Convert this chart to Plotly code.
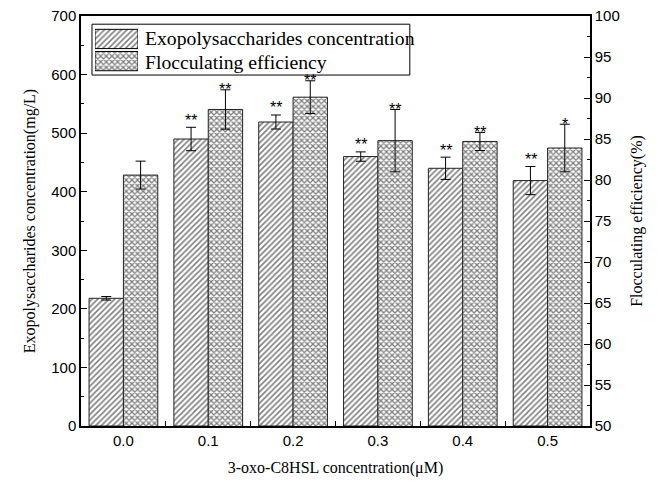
import plotly.graph_objects as go

categories = ["0.0", "0.1", "0.2", "0.3", "0.4", "0.5"]
eps_values = [218, 490, 519, 460, 440, 419]
eps_errors = [3, 20, 12, 8, 19, 24]
eps_marks = ["", "**", "**", "**", "**", "**"]
floc_values = [80.6, 88.6, 90.1, 84.8, 84.7, 83.9]
floc_errors = [1.7, 2.4, 2.0, 3.8, 1.1, 2.9]
floc_marks = ["", "**", "**", "**", "**", "*"]
series_names = ["Exopolysaccharides concentration", "Flocculating efficiency"]

xpos = list(range(len(categories)))
serif = "Liberation Serif, Times New Roman, serif"
sans = "Liberation Sans, Arial, sans-serif"

eps_pattern = dict(shape="/", fgcolor="black", bgcolor="white", size=4, solidity=0.4)
floc_pattern = dict(shape="x", fgcolor="black", bgcolor="white", size=4, solidity=0.55)

fig = go.Figure()
fig.add_trace(go.Bar(
    x=xpos, y=eps_values, name=series_names[0], showlegend=False,
    offsetgroup="a", xaxis="x", yaxis="y",
    marker=dict(color="white", line=dict(color="#222", width=1), pattern=eps_pattern),
    error_y=dict(type="data", array=eps_errors, color="black", thickness=1, width=5),
))
fig.add_trace(go.Bar(
    x=xpos, y=floc_values, name=series_names[1], showlegend=False,
    offsetgroup="b", xaxis="x", yaxis="y2", base=0,
    marker=dict(color="white", line=dict(color="#222", width=1), pattern=floc_pattern),
    error_y=dict(type="data", array=floc_errors, color="black", thickness=1, width=5),
))

# legend swatches (drawn on a small auxiliary axis inside the legend box)
for row, (nm, pat) in enumerate(zip(series_names, [eps_pattern, floc_pattern])):
    fig.add_trace(go.Bar(
        y=[1 - row], x=[1], orientation="h", name=nm, showlegend=False, hoverinfo="skip",
        xaxis="x3", yaxis="y3", width=0.87, offset=-0.435,
        marker=dict(color="white", line=dict(color="black", width=1), pattern=pat),
    ))

annotations = []
for i in xpos:
    if eps_marks[i]:
        annotations.append(dict(x=i, y=eps_values[i] + eps_errors[i], xref="x", yref="y",
                                text=eps_marks[i], showarrow=False, xshift=-17, yshift=7,
                                font=dict(family=sans, size=16, color="black")))
    if floc_marks[i]:
        annotations.append(dict(x=i, y=floc_values[i] + floc_errors[i], xref="x", yref="y2",
                                text=floc_marks[i], showarrow=False, xshift=17, yshift=0,
                                font=dict(family=sans, size=16, color="black")))
for row, nm in enumerate(series_names):
    annotations.append(dict(x=0.1218, y=0.947 - row * 0.058, xref="paper", yref="paper",
                            xanchor="left", yanchor="middle", text=nm, showarrow=False,
                            font=dict(family=serif, size=19.7, color="black")))

fig.update_layout(
    width=657, height=492,
    margin=dict(l=81, r=67, t=16, b=66, autoexpand=False),
    paper_bgcolor="white", plot_bgcolor="white",
    barmode="group", bargap=0.19, bargroupgap=0,
    showlegend=False,
    annotations=annotations,
    shapes=[dict(type="rect", xref="paper", yref="paper", x0=0.0216, x1=0.646,
                 y0=0.856, y1=0.980, line=dict(color="black", width=1),
                 fillcolor="white", layer="below")],
    xaxis=dict(range=[-0.5, 5.5], tickmode="array", tickvals=xpos, ticktext=categories,
               ticks="", showline=True, linecolor="black", linewidth=1.5, mirror=True,
               showgrid=False, zeroline=False, automargin=False,
               tickfont=dict(family=sans, size=15, color="black"),
               minor=dict(tickvals=[0.5, 1.5, 2.5, 3.5, 4.5], ticks="inside", ticklen=5,
                          tickcolor="black", tickwidth=1, showgrid=False),
               title=dict(text="3-oxo-C8HSL concentration(μM)", standoff=14,
                          font=dict(family=serif, size=16, color="black"))),
    yaxis=dict(range=[0, 700], dtick=100, ticks="inside", ticklen=6, tickcolor="black",
               showline=True, linecolor="black", linewidth=1.5, showgrid=False, zeroline=False,
               automargin=False,
               tickfont=dict(family=sans, size=15, color="black"),
               minor=dict(dtick=50, ticks="inside", ticklen=3, tickcolor="black", showgrid=False),
               title=dict(text="Exopolysaccharides concentration(mg/L)", standoff=12,
                          font=dict(family=serif, size=16, color="black"))),
    yaxis2=dict(range=[50, 100], dtick=5, overlaying="y", side="right",
                ticks="inside", ticklen=6, tickcolor="black", automargin=False,
                showline=True, linecolor="black", linewidth=1.5, showgrid=False, zeroline=False,
                tickfont=dict(family=sans, size=15, color="black"),
                minor=dict(dtick=2.5, ticks="inside", ticklen=3, tickcolor="black", showgrid=False),
                title=dict(text="Flocculating efficiency(%)", standoff=12,
                           font=dict(family=serif, size=16, color="black"))),
    xaxis3=dict(domain=[0.0275, 0.112], anchor="y3", range=[0, 1], visible=False,
                fixedrange=True),
    yaxis3=dict(domain=[0.863, 0.971], anchor="x3", range=[-0.5, 1.5], visible=False,
                fixedrange=True),
)

fig.write_html("out.html", config={"displayModeBar": False},
               post_script="document.body.style.margin='0';document.body.style.overflow='hidden';")
